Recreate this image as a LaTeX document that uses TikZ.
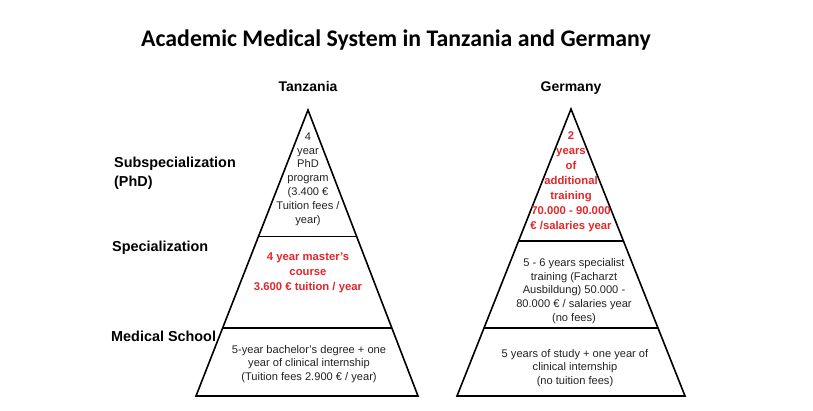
\documentclass[tikz,border=0pt]{standalone}
\usepackage{fontspec}
\setmainfont{Liberation Sans}
\newfontfamily\titlefont{Carlito}
\usetikzlibrary{calc}
\definecolor{redtext}{HTML}{E32629}
\definecolor{graytext}{HTML}{222222}

\tikzset{
  layer/.style={align=center,inner sep=0pt,text=graytext,font=\fontsize{11.1}{13.8}\selectfont},
  redlayer/.style={layer,text=redtext,font=\bfseries\fontsize{11.3}{15}\selectfont},
  level/.style={anchor=west,align=left,inner sep=0pt,font=\bfseries\fontsize{14.4}{19}\selectfont},
  country/.style={anchor=base,inner sep=0pt,font=\bfseries\fontsize{14}{17}\selectfont},
  pyramid/.style={draw=black,line width=1.6pt,line join=miter}
}

\begin{document}
\begin{tikzpicture}[x=1pt,y=-1pt]
  \useasboundingbox (0,0) rectangle (813,411);
  \node[inner sep=0pt,anchor=base,font=\titlefont\bfseries\fontsize{23.8}{28}\selectfont] (title) at (396,46.5) {Academic Medical System in Tanzania and Germany};

  % corners of the two pyramids
  \coordinate (tzTop) at (308,110);
  \coordinate (tzL) at (196,396);
  \coordinate (tzR) at (418,396);
  \coordinate (deTop) at (571,109);
  \coordinate (deL) at (457,396);
  \coordinate (deR) at (685,396);

  \foreach \p/\a/\b in {tz/.442/.762,de/.46/.763}{
    \draw[pyramid] (\p Top) -- (\p L) -- (\p R) -- cycle;
    \draw[pyramid] ($(\p Top)!\a!(\p L)$) -- ($(\p Top)!\a!(\p R)$);
    \draw[pyramid] ($(\p Top)!\b!(\p L)$) -- ($(\p Top)!\b!(\p R)$);
  }

  \node[country] (tzname) at (308,92) {Tanzania};
  \node[country] (dename) at (571,92) {Germany};

  \node[level] (phd) at (114,173) {Subspecialization\\(PhD)};
  \node[level] (spec) at (112,248) {Specialization};
  \node[level] (school) at (111,336) {Medical School};

  % Tanzania
  \node[layer] (tzphd) at (308,179) {4\\year\\PhD\\program\\(3.400 €\\Tuition fees /\\year)};
  \node[redlayer] (tzspec) at (308,273) {4 year master's\\course\\3.600 € tuition / year};
  \node[layer] (tzschool) at (309,364) {5-year bachelor's degree + one\\year of clinical internship\\(Tuition fees 2.900 € / year)};

  % Germany
  \node[redlayer] (dephd) at (571,182) {2\\years\\of\\additional\\training\\70.000 - 90.000\\€ /salaries year};
  \node[layer] (despec) at (574,291) {5 - 6 years specialist\\training (Facharzt\\Ausbildung) 50.000 -\\80.000 € / salaries year\\(no fees)};
  \node[layer] (deschool) at (575,368) {5 years of study + one year of\\clinical internship\\(no tuition fees)};
\end{tikzpicture}
\end{document}
